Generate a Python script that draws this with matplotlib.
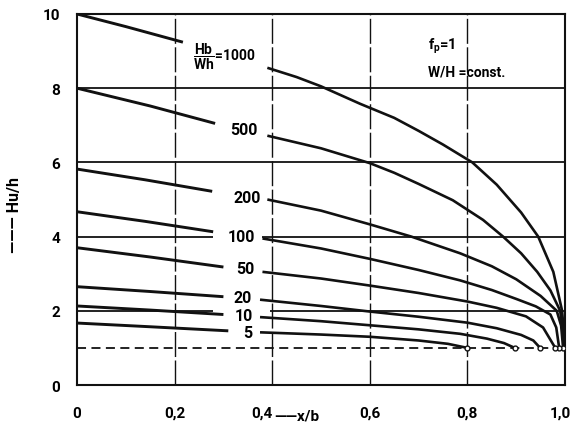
import numpy as np
import matplotlib.pyplot as plt
import matplotlib.transforms as mtransforms

plt.rcParams['font.family'] = ['Roboto', 'DejaVu Sans']
plt.rcParams['font.weight'] = 'bold'
plt.rcParams['mathtext.fontset'] = 'custom'
plt.rcParams['mathtext.rm'] = 'Roboto:bold'
plt.rcParams['mathtext.bf'] = 'Roboto:bold'

# Hu/h over x/b, one curve per Hb/Wh
params = ['1000', '500', '200', '100', '50', '20', '10', '5']

x_1000 = [0, 0.1, 0.217, 0.30, 0.39, 0.45, 0.50, 0.58, 0.65, 0.70, 0.75, 0.81,
          0.86, 0.91, 0.945, 0.976, 0.994, 1.0]
y_1000 = [10, 9.66, 9.24, 8.92, 8.55, 8.3, 8.05, 7.58, 7.2, 6.85, 6.48, 6.0,
          5.4, 4.65, 4.0, 3.05, 2.0, 1.0]

x_500 = [0, 0.15, 0.283, 0.39, 0.50, 0.60, 0.65, 0.70, 0.77, 0.832, 0.873,
         0.91, 0.943, 0.97, 0.99, 1.0]
y_500 = [8.0, 7.52, 7.05, 6.72, 6.38, 5.98, 5.72, 5.42, 4.98, 4.45, 4.0,
         3.55, 3.05, 2.55, 2.0, 1.0]

x_200 = [0, 0.14, 0.277, 0.39, 0.50, 0.60, 0.685, 0.785, 0.85, 0.90, 0.95,
         0.983, 0.992, 0.996]
y_200 = [5.82, 5.53, 5.22, 5.0, 4.7, 4.33, 4.0, 3.55, 3.2, 2.85, 2.4,
         2.0, 1.6, 1.0]

x_100 = [0, 0.14, 0.279, 0.38, 0.50, 0.60, 0.70, 0.785, 0.85, 0.90, 0.94,
         0.97, 0.982, 0.988]
y_100 = [4.67, 4.41, 4.13, 3.95, 3.68, 3.4, 3.1, 2.82, 2.56, 2.32, 2.12,
         1.9, 1.55, 1.0]

x_50 = [0, 0.15, 0.30, 0.38, 0.50, 0.60, 0.70, 0.80, 0.86, 0.92, 0.955, 0.98]
y_50 = [3.7, 3.45, 3.18, 3.05, 2.87, 2.68, 2.48, 2.25, 2.08, 1.85, 1.55, 1.0]

x_20 = [0, 0.15, 0.30, 0.375, 0.50, 0.60, 0.70, 0.80, 0.86, 0.91, 0.935, 0.949]
y_20 = [2.65, 2.52, 2.38, 2.3, 2.13, 1.98, 1.84, 1.68, 1.53, 1.35, 1.2, 1.0]

x_10 = [0, 0.15, 0.30, 0.375, 0.50, 0.60, 0.70, 0.785, 0.84, 0.875, 0.897]
y_10 = [2.13, 2.02, 1.9, 1.83, 1.72, 1.61, 1.5, 1.38, 1.25, 1.13, 1.0]

x_5 = [0, 0.15, 0.31, 0.375, 0.50, 0.60, 0.70, 0.76, 0.80]
y_5 = [1.67, 1.57, 1.46, 1.42, 1.36, 1.3, 1.2, 1.11, 1.0]

curves_x = [x_1000, x_500, x_200, x_100, x_50, x_20, x_10, x_5]
curves_y = [y_1000, y_500, y_200, y_100, y_50, y_20, y_10, y_5]

# Hu/h = 1 line
base_x = [0, 1.0]
base_y = [1, 1]

x_ticks = [0, 0.2, 0.4, 0.6, 0.8, 1.0]
x_tick_labels = ['0', '0,2', '0,4', '0,6', '0,8', '1,0']
y_ticks = [0, 2, 4, 6, 8, 10]

# where each curve is broken for its label, and where the label sits
gaps = [(0.217, 0.39), (0.283, 0.39), (0.277, 0.39), (0.279, 0.38),
        (0.30, 0.38), (0.30, 0.375), (0.30, 0.375), (0.31, 0.375)]
label_x = [0.238, 0.342, 0.348, 0.336, 0.344, 0.34, 0.342, 0.349]
label_y = [8.87, 6.88, 5.05, 4.0, 3.14, 2.35, 1.86, 1.41]

fig = plt.figure(figsize=(5.73, 4.27), dpi=100)
ax = fig.add_axes([0.1344, 0.0960, 0.8517, 0.8689])

ink = '#111111'

# grid: full lines at 6 and 8, lines at 2 and 4 broken by the labels
ax.hlines([6, 8], 0, 1, color=ink, lw=1.3)
ax.hlines([2, 4], 0, [0.279, 0.279], color=ink, lw=1.3)
ax.hlines([2, 4], [0.395, 0.379], 1, color=ink, lw=1.3)
ax.vlines([0.2, 0.4, 0.6, 0.8], 0, 10, color=ink, lw=1.0, linestyles=[(0, (18, 2.5))])

ax.plot(base_x, base_y, color=ink, lw=1.3, dashes=(5, 3))

for xs, ys, (g0, g1) in zip(curves_x, curves_y, gaps):
    xs = np.array(xs)
    ys = np.array(ys)
    left = xs <= g0
    right = xs >= g1
    ax.plot(xs[left], ys[left], color=ink, lw=2.1, solid_capstyle='butt')
    ax.plot(xs[right], ys[right], color=ink, lw=1.9, solid_capstyle='butt',
            solid_joinstyle='round')
    ax.plot(xs[-1], ys[-1], 'o', ms=3.5, mfc='white', mec=ink, mew=1.0, zorder=5)

for name, lx, ly in zip(params, label_x, label_y):
    if name == '1000':
        ax.text(lx, ly, r'$\dfrac{\mathbf{Hb}}{\mathbf{Wh}}$=1000', fontsize=10,
                ha='left', va='center')
    else:
        ax.text(lx, ly, name, fontsize=11.5, ha='center', va='center')

ax.text(0.72, 9.15, r'f$_{\rm p}$=1', fontsize=10.5, ha='left', va='center')
ax.text(0.72, 8.46, 'W/H =const.', fontsize=10, ha='left', va='center')

ax.set_xlim(0, 1.0)
ax.set_ylim(0, 10)
ax.set_xticks(x_ticks)
ax.set_xticklabels(x_tick_labels)
ax.set_yticks(y_ticks)
ax.tick_params(length=0, labelsize=11)
ax.tick_params(axis='x', pad=15)
ax.tick_params(axis='y', pad=12)
xlabels = ax.get_xticklabels()
xlabels[2].set_ha('right')
xlabels[-1].set_transform(xlabels[-1].get_transform() +
                          mtransforms.ScaledTranslation(-5 / 100, 0, fig.dpi_scale_trans))
for s in ax.spines.values():
    s.set_linewidth(1.5)
    s.set_color(ink)

ax.text(0.404, -0.083, '\u2014\u2014x/b', transform=ax.transAxes, fontsize=11,
        ha='left', va='center')
fig.text(15 / 573, 1 - 215 / 427, '\u2014\u2014\u2014 Hu/h', rotation=90,
         fontsize=11.5, ha='center', va='center')

fig.savefig('out.png', dpi=100)
